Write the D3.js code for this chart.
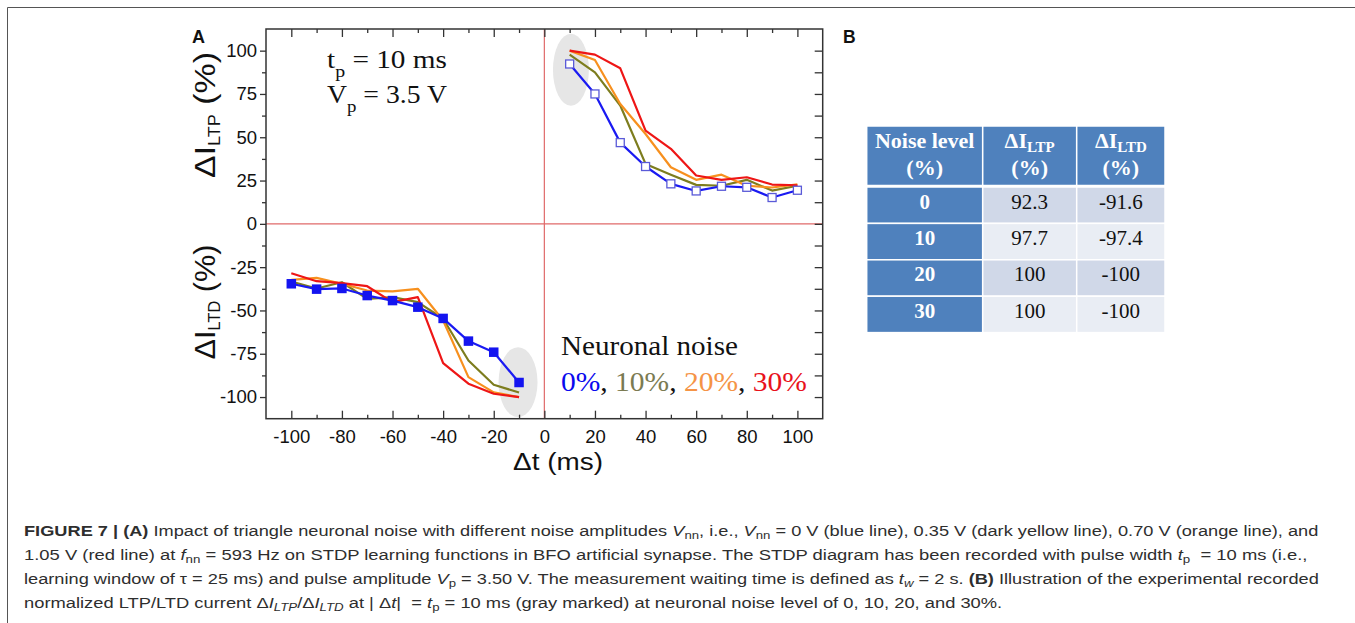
<!DOCTYPE html>
<html><head><meta charset="utf-8">
<script src="https://cdn.jsdelivr.net/npm/d3@7"></script>
<style>
html,body{margin:0;padding:0;background:#fff;}
svg text{white-space:pre;}
</style></head>
<body>
<script>
// ---------------- DATA ----------------
const dtLTP = [10, 20, 30, 40, 50, 60, 70, 80, 90, 100];
const dtLTD = [-100, -90, -80, -70, -60, -50, -40, -30, -20, -10];
const noiseNames = ["0%", "10%", "20%", "30%"];
const ltp0  = [92.3, 75.0, 46.9, 33.1, 23.1, 19.0, 21.7, 21.1, 15.2, 19.4];
const ltp10 = [97.7, 87.5, 68.3, 34.6, 28.4, 22.5, 22.0, 25.4, 19.2, 22.0];
const ltp20 = [100, 94.6, 69.2, 51.9, 32.7, 25.4, 28.4, 22.0, 21.0, 22.8];
const ltp30 = [100, 97.7, 89.8, 53.8, 43.3, 27.9, 25.4, 26.9, 22.7, 22.3];
const ltd0  = [-34.6, -37.7, -37.3, -41.4, -44.3, -48.1, -54.6, -67.7, -74.1, -91.6];
const ltd10 = [-33.3, -37.3, -33.7, -43.3, -42.3, -45.2, -54.8, -78.9, -92.9, -97.4];
const ltd20 = [-32.3, -31.2, -34.6, -38.5, -39.0, -37.5, -55.8, -88.5, -97.3, -100];
const ltd30 = [-28.5, -33.1, -34.2, -36.0, -45.2, -42.3, -80.4, -92.3, -98.1, -100];
const xTicksMajor = [-100, -80, -60, -40, -20, 0, 20, 40, 60, 80, 100];
const xTicksMinor = [-90, -70, -50, -30, -10, 10, 30, 50, 70, 90];
const yTicksMajor = [-100, -75, -50, -25, 0, 25, 50, 75, 100];
const yTicksMinor = [-87.5, -62.5, -37.5, -12.5, 12.5, 37.5, 62.5, 87.5];
// gray highlight at |dt| = 10 ms : [cx, cy, rx, ry] in data units
const highlightLTP = [10.5, 89, 7.1, 20.8];
const highlightLTD = [-10.4, -91.4, 7.7, 20.2];
// table B
const tableNoise = ["0", "10", "20", "30"];
const tableLTP = ["92.3", "97.7", "100", "100"];
const tableLTD = ["-91.6", "-97.4", "-100", "-100"];

// ---------------- SETUP ----------------
const W = 1355, H = 623;
const svg = d3.select("body").append("svg").attr("width", W).attr("height", H);
const SANS = "'Liberation Sans', Arial, sans-serif";
const SERIF = "'Liberation Serif', 'Times New Roman', serif";

// outer figure frame
svg.append("line").attr("x1", 7.5).attr("y1", 7.5).attr("x2", W).attr("y2", 7.5).attr("stroke", "#555").attr("stroke-width", 1);
svg.append("line").attr("x1", 7.5).attr("y1", 7.5).attr("x2", 7.5).attr("y2", H).attr("stroke", "#555").attr("stroke-width", 1);

const L = 266, R = 822.7, T = 29, B = 418.7;
const x = d3.scaleLinear().domain([-110, 110]).range([L, R]);
const y = d3.scaleLinear().domain([-112.5, 112.5]).range([B, T]);

const seriesColors = ["#1a1af2", "#7d7d1e", "#f7901e", "#ee1616"];
const legendColors = ["#0a0aee", "#7b7b52", "#f59446", "#e8121b"];

// helper: text fitted to a given width (horizontal scale)
function fitText(parent, x0, y0, width, build) {
  const g = parent.append("g");
  const t = g.append("text");
  build(t);
  const w = t.node().getComputedTextLength();
  g.attr("transform", `translate(${x0},${y0}) scale(${width / w},1)`);
  return t;
}

// ---------------- PANEL A ----------------
const gA = svg.append("g");

// highlights
[highlightLTP, highlightLTD].forEach(h => {
  gA.append("ellipse")
    .attr("cx", x(h[0])).attr("cy", y(h[1]))
    .attr("rx", x(h[2]) - x(0)).attr("ry", y(0) - y(h[3]))
    .attr("fill", "#e6e6e6");
});

// red zero lines
gA.append("line").attr("x1", L).attr("x2", R).attr("y1", y(0)).attr("y2", y(0))
  .attr("stroke", "#e06a6a").attr("stroke-width", 1.2);
gA.append("line").attr("x1", x(0)).attr("x2", x(0)).attr("y1", T).attr("y2", B)
  .attr("stroke", "#e06a6a").attr("stroke-width", 1.2);

// axes
const fmt = d => String(d);
function styleAxis(g) {
  g.select(".domain").remove();
  g.selectAll("line").attr("stroke", "#333").attr("stroke-width", 1.3);
  g.selectAll("text").attr("fill", "#111").attr("font-family", SANS);
}
gA.append("g").attr("transform", `translate(0,${B})`)
  .call(d3.axisBottom(x).tickValues(xTicksMajor).tickSize(-8).tickPadding(11).tickFormat(fmt))
  .call(styleAxis).selectAll("text").attr("font-size", 18.5);
gA.append("g").attr("transform", `translate(0,${B})`)
  .call(d3.axisBottom(x).tickValues(xTicksMinor).tickSize(-4).tickFormat(""))
  .call(styleAxis);
gA.append("g").attr("transform", `translate(0,${T})`)
  .call(d3.axisTop(x).tickValues(xTicksMajor).tickSize(-8).tickFormat(""))
  .call(styleAxis);
gA.append("g").attr("transform", `translate(0,${T})`)
  .call(d3.axisTop(x).tickValues(xTicksMinor).tickSize(-4).tickFormat(""))
  .call(styleAxis);
gA.append("g").attr("transform", `translate(${L},0)`)
  .call(d3.axisLeft(y).tickValues(yTicksMajor).tickSize(6).tickPadding(3).tickFormat(fmt))
  .call(styleAxis).selectAll("text").attr("font-size", 18.5);
gA.append("g").attr("transform", `translate(${L},0)`)
  .call(d3.axisLeft(y).tickValues(yTicksMinor).tickSize(4).tickFormat(""))
  .call(styleAxis);
gA.append("g").attr("transform", `translate(${R},0)`)
  .call(d3.axisRight(y).tickValues(yTicksMajor.concat(yTicksMinor)).tickSize(-8).tickFormat(""))
  .call(styleAxis);

// frame
gA.append("rect").attr("x", L).attr("y", T).attr("width", R - L).attr("height", B - T)
  .attr("fill", "none").attr("stroke", "#333").attr("stroke-width", 1.5);

// lines
const line = d3.line().x(d => x(d[0])).y(d => y(d[1]));
const ltpSeries = [ltp0, ltp10, ltp20, ltp30];
const ltdSeries = [ltd0, ltd10, ltd20, ltd30];
[1, 2, 3, 0].forEach(i => {
  gA.append("path").datum(dtLTP.map((d, j) => [d, ltpSeries[i][j]]))
    .attr("d", line).attr("fill", "none").attr("stroke", seriesColors[i])
    .attr("stroke-width", 2.2).attr("stroke-linejoin", "round");
  gA.append("path").datum(dtLTD.map((d, j) => [d, ltdSeries[i][j]]))
    .attr("d", line).attr("fill", "none").attr("stroke", seriesColors[i])
    .attr("stroke-width", 2.2).attr("stroke-linejoin", "round");
});
// markers for 0% noise
const sq = 8;
gA.selectAll(".openSq").data(dtLTP.map((d, j) => [d, ltp0[j]])).enter().append("rect")
  .attr("x", d => x(d[0]) - sq / 2).attr("y", d => y(d[1]) - sq / 2)
  .attr("width", sq).attr("height", sq)
  .attr("fill", "#fff").attr("stroke", "#5a5ad8").attr("stroke-width", 1.3);
const sq2 = 9.5;
gA.selectAll(".fillSq").data(dtLTD.map((d, j) => [d, ltd0[j]])).enter().append("rect")
  .attr("x", d => x(d[0]) - sq2 / 2).attr("y", d => y(d[1]) - sq2 / 2)
  .attr("width", sq2).attr("height", sq2)
  .attr("fill", "#1414f0");

// annotation t_p, V_p
fitText(gA, 327, 68, 120, t => {
  t.attr("font-family", SERIF).attr("font-size", 25).attr("fill", "#111");
  t.append("tspan").text("t");
  t.append("tspan").attr("font-size", 17).attr("dy", 9).text("p");
  t.append("tspan").attr("dy", -9).text(" = 10 ms");
});
fitText(gA, 327, 103, 120, t => {
  t.attr("font-family", SERIF).attr("font-size", 25).attr("fill", "#111");
  t.append("tspan").text("V");
  t.append("tspan").attr("font-size", 17).attr("dy", 9).text("p");
  t.append("tspan").attr("dy", -9).text(" = 3.5 V");
});

// legend
fitText(gA, 561, 355, 177, t => {
  t.attr("font-family", SERIF).attr("font-size", 27).attr("fill", "#111").text("Neuronal noise");
});
fitText(gA, 561, 391, 246, t => {
  t.attr("font-family", SERIF).attr("font-size", 27).attr("fill", "#111");
  noiseNames.forEach((n, i) => {
    t.append("tspan").attr("fill", legendColors[i]).text(n);
    if (i < noiseNames.length - 1) t.append("tspan").attr("fill", "#111").text(", ");
  });
});

// axis titles
fitText(gA, 513, 470, 90, t => {
  t.attr("font-family", SANS).attr("font-size", 24).attr("fill", "#111").text("\u0394t (ms)");
});
function yTitle(cy, len, sub) {
  const g = gA.append("g");
  const t = g.append("text").attr("font-family", SANS).attr("font-size", 30).attr("fill", "#111");
  t.append("tspan").text("\u0394I");
  t.append("tspan").attr("font-size", 16).attr("dy", 5).text(sub);
  t.append("tspan").attr("dy", -5).text(" (%)");
  const w = t.node().getComputedTextLength();
  t.attr("x", -w / 2);
  g.attr("transform", `translate(215,${cy}) rotate(-90) scale(${len / w},1)`);
}
yTitle(115, 126, "LTP");
yTitle(302, 115, "LTD");

// panel letters
svg.append("text").attr("x", 192).attr("y", 43).attr("font-family", SANS).attr("font-weight", "bold")
  .attr("font-size", 18).attr("fill", "#111").text("A");
svg.append("text").attr("x", 843).attr("y", 43).attr("font-family", SANS).attr("font-weight", "bold")
  .attr("font-size", 17.5).attr("fill", "#111").text("B");

// ---------------- PANEL B (table) ----------------
const gB = svg.append("g");
const tx0 = 866.7;
const colW = [116, 94, 88.3];
const colX = [tx0, tx0 + colW[0], tx0 + colW[0] + colW[1]];
const headTop = 126, headH = 59.5, rowH = 36.4;
const blue = "#4f81bd", dark = "#d0d8e8", light = "#e9edf4";
// header cells
colX.forEach((cx, i) => {
  gB.append("rect").attr("x", cx).attr("y", headTop).attr("width", colW[i]).attr("height", headH)
    .attr("fill", blue).attr("stroke", "#fff").attr("stroke-width", 1.5);
});
tableNoise.forEach((n, r) => {
  const ry = headTop + headH + 1.5 + r * rowH;
  [blue, r % 2 === 0 ? dark : light, r % 2 === 0 ? dark : light].forEach((c, i) => {
    gB.append("rect").attr("x", colX[i]).attr("y", ry).attr("width", colW[i]).attr("height", rowH)
      .attr("fill", c).attr("stroke", "#fff").attr("stroke-width", 1.5);
  });
  const vals = [n, tableLTP[r], tableLTD[r]];
  vals.forEach((v, i) => {
    gB.append("text").attr("x", colX[i] + colW[i] / 2).attr("y", ry + 21.5)
      .attr("text-anchor", "middle").attr("font-family", SERIF).attr("font-size", 21)
      .attr("font-weight", i === 0 ? "bold" : "normal")
      .attr("fill", i === 0 ? "#fff" : "#111").text(v);
  });
});
// header text
function headText(i, build) {
  const t = gB.append("text").attr("x", colX[i] + colW[i] / 2).attr("y", 148)
    .attr("text-anchor", "middle").attr("font-family", SERIF).attr("font-size", 22)
    .attr("font-weight", "bold").attr("fill", "#fff");
  build(t);
  gB.append("text").attr("x", colX[i] + colW[i] / 2).attr("y", 175)
    .attr("text-anchor", "middle").attr("font-family", SERIF).attr("font-size", 22)
    .attr("font-weight", "bold").attr("fill", "#fff").text("(%)");
}
headText(0, t => t.text("Noise level"));
headText(1, t => { t.append("tspan").text("\u0394I"); t.append("tspan").attr("font-size", 15).attr("dy", 4).text("LTP"); });
headText(2, t => { t.append("tspan").text("\u0394I"); t.append("tspan").attr("font-size", 15).attr("dy", 4).text("LTD"); });

// ---------------- CAPTION ----------------
const capLines = [
  { w: 1295, seg: [["FIGURE 7 | (A)", "b"], [" Impact of triangle neuronal noise with different noise amplitudes ", ""], ["V", "i"], ["nn", "sub"], [", i.e., ", ""], ["V", "i"], ["nn", "sub"], [" = 0 V (blue line), 0.35 V (dark yellow line), 0.70 V (orange line), and", ""]] },
  { w: 1284, seg: [["1.05 V (red line) at ", ""], ["f", "i"], ["nn", "sub"], [" = 593 Hz on STDP learning functions in BFO artificial synapse. The STDP diagram has been recorded with pulse width ", ""], ["t", "i"], ["p", "sub"], ["  = 10 ms (i.e.,", ""]] },
  { w: 1296, seg: [["learning window of \u03c4 = 25 ms) and pulse amplitude ", ""], ["V", "i"], ["p", "sub"], [" = 3.50 V. The measurement waiting time is defined as ", ""], ["t", "i"], ["w", "isub"], [" = 2 s. ", ""], ["(B)", "b"], [" Illustration of the experimental recorded", ""]] },
  { w: 979, seg: [["normalized LTP/LTD current \u0394", ""], ["I", "i"], ["LTP", "isub"], ["/\u0394", ""], ["I", "i"], ["LTD", "isub"], [" at | \u0394", ""], ["t", "i"], ["|  = ", ""], ["t", "i"], ["p", "sub"], [" = 10 ms (gray marked) at neuronal noise level of 0, 10, 20, and 30%.", ""]] }
];
capLines.forEach((ln, k) => {
  fitText(svg, 24, 536 + k * 24, ln.w, t => {
    t.attr("font-family", SANS).attr("font-size", 14.5).attr("fill", "#2e2e2e");
    let off = 0;
    ln.seg.forEach(([s, st]) => {
      const sp = t.append("tspan").text(s);
      const isSub = st === "sub" || st === "isub";
      const target = isSub ? 3 : 0;
      if (target !== off) { sp.attr("dy", target - off); off = target; }
      if (st === "b") sp.attr("font-weight", "bold");
      if (st === "i" || st === "isub") sp.attr("font-style", "italic");
      if (isSub) sp.attr("font-size", 10.5);
    });
  });
});
</script>
</body></html>
